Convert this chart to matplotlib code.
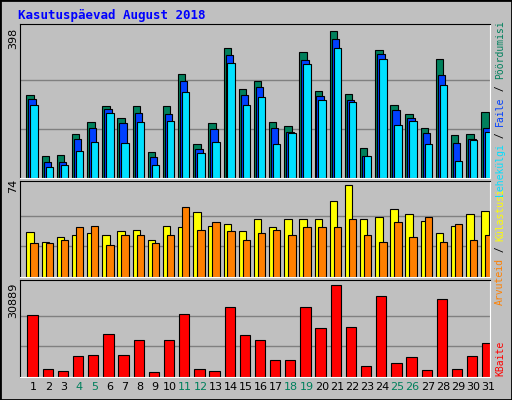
import matplotlib
matplotlib.use("Agg")
import matplotlib.pyplot as plt
import numpy as np

days = list(range(1, 32))
weekend = [4, 5, 11, 12, 18, 19, 25, 26]
hits = [224,59,62,118,151,194,162,194,70,194,281,91,148,352,241,262,151,140,341,235,398,227,80,346,197,173,135,322,116,118,178]
files = [213,43,43,105,135,186,148,175,56,173,262,78,132,333,224,246,135,124,319,222,376,211,59,336,184,162,121,279,94,105,135]
pages = [197,29,34,72,97,175,94,151,34,154,232,67,97,311,197,219,91,121,308,211,352,205,59,322,143,154,91,251,45,102,124]
visits = [36,28,32,34,35,34,37,38,30,41,40,52,41,43,37,47,40,47,47,47,61,74,47,48,55,51,45,35,41,51,53]
sites = [27,27,30,40,41,26,34,34,27,34,56,38,44,37,30,35,38,34,40,40,40,47,34,28,44,32,48,28,43,30,34]
kbytes = [20740,2590,2140,7210,7550,14310,7550,12290,1800,12290,21080,2590,2140,23440,13980,12290,5860,5860,23440,16340,30889,16680,3830,27160,4850,6870,2480,26150,2820,7210,11270]

W, H = 512, 400
BG = "#c0c0c0"
fig = plt.figure(figsize=(W/100, H/100), dpi=100, facecolor=BG)
fig.patches.append(plt.Rectangle((0, 0), 1, 1, transform=fig.transFigure, fill=False, edgecolor="black", lw=2))

def ax_px(x0, y0, x1, y1):
    a = fig.add_axes([x0/W, 1-y1/H, (x1-x0)/W, (y1-y0)/H])
    a.set_facecolor(BG)
    a.set_xlim(0.2, 31.2)
    a.set_xticks([]); a.set_yticks([])
    for s in ("left", "top"):
        a.spines[s].set_color("black")
    for s in ("right", "bottom"):
        a.spines[s].set_color("white")
    return a

d = np.array(days, dtype=float)
kw = dict(edgecolor="black", linewidth=0.8, align="edge")

a1 = ax_px(20, 24, 490, 178)
a1.set_ylim(0, 398 * 154/147)
for g in (398/3, 2*398/3):
    a1.axhline(g, color="#808080", lw=1, zorder=0)
a1.bar(d-0.375, hits, 0.49, color="#00805c", **kw)
a1.bar(d-0.245, files, 0.49, color="#0040ff", **kw)
a1.bar(d-0.115, pages, 0.49, color="#00e0ff", **kw)

a2 = ax_px(20, 181, 490, 277)
a2.set_ylim(0, 74 * 96/92)
for g in (74/3, 2*74/3):
    a2.axhline(g, color="#808080", lw=1, zorder=0)
a2.bar(d-0.375, visits, 0.49, color="#ffff00", **kw)
a2.bar(d-0.115, sites, 0.49, color="#ff8000", **kw)

a3 = ax_px(20, 280, 490, 377)
a3.set_ylim(0, 30889 * 97/92)
for g in (30889/3, 2*30889/3):
    a3.axhline(g, color="#808080", lw=1, zorder=0)
a3.bar(d-0.31, kbytes, 0.68, color="#ff0000", **kw)
for i in days:
    a3.text(i + 0.1, -0.05, str(i), transform=a3.get_xaxis_transform(), ha="center", va="top",
            fontsize=8, color="#00805c" if i in weekend else "black", family="DejaVu Sans")

fig.text(18/W, 1-15/H, "Kasutuspäevad August 2018", color="#0000ff", fontsize=9,
         fontweight="bold", family="DejaVu Sans Mono", va="center")
fig.text(13/W, 1-38/H, "398", rotation=90, fontsize=8, ha="center", va="center")
fig.text(13/W, 1-186/H, "74", rotation=90, fontsize=8, ha="center", va="center")
fig.text(13/W, 1-300/H, "30889", rotation=90, fontsize=8, ha="center", va="center")

FS = 7
CH = 0.6 * FS * 100 / 72

def vlabel(parts, x, ybot):
    y = ybot
    for t, c in parts:
        fig.text(x/W, 1-y/H, t, rotation=90, color=c, fontsize=FS,
                 family="DejaVu Sans Mono", ha="center", va="bottom")
        y -= len(t) * CH

vlabel([("Lehekülgi", "#00e0ff"), (" / ", "#000000"), ("Faile", "#0040ff"),
        (" / ", "#000000"), ("Pöördumisi", "#00805c")], 500, 196)
vlabel([("Arvuteid", "#ff8000"), (" / ", "#000000"), ("Külastusi", "#ffff00")], 500, 305)
vlabel([("KBaite", "#ff0000")], 500, 376)

fig.savefig("out.png", dpi=100, facecolor=BG)
